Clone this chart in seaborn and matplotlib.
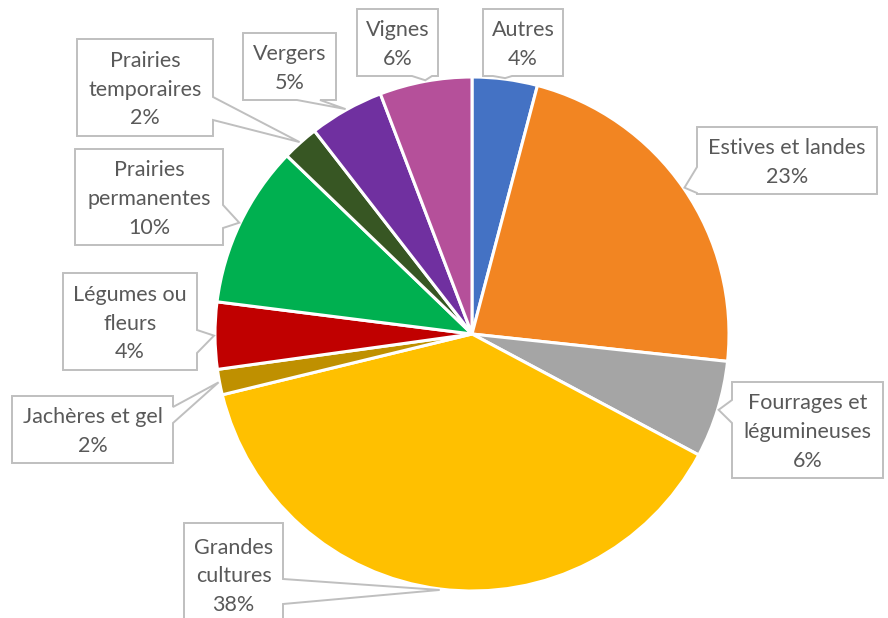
import matplotlib
matplotlib.use("Agg")
import matplotlib.pyplot as plt
from matplotlib.patches import Polygon
import numpy as np
import seaborn as sns

# Surfaces agricoles par type d'occupation (parts en %)
categories = [
    "Autres",
    "Estives et landes",
    "Fourrages et\nlégumineuses",
    "Grandes\ncultures",
    "Jachères et gel",
    "Légumes ou\nfleurs",
    "Prairies\npermanentes",
    "Prairies\ntemporaires",
    "Vergers",
    "Vignes",
]
shares = [4.1, 22.6, 6.1, 38.4, 1.6, 4.2, 10.2, 2.3, 4.7, 5.8]
colors = ["#4472C4", "#F28522", "#A5A5A5", "#FFC000", "#BF9000",
          "#C00000", "#00B050", "#375623", "#7030A0", "#B5509A"]

# Callout boxes in pixel space (left, top, right, bottom), the side the
# pointer leaves from and the span of its base along that side.
callouts = [
    ((483, 9, 563, 76), "bottom", (493, 512)),
    ((697, 127, 877, 194), "left", (167, 193)),
    ((732, 382, 883, 478), "left", (400, 423)),
    ((184, 523, 283, 626), "right", (579, 604)),
    ((12, 396, 173, 463), "right", (407, 423)),
    ((63, 273, 197, 370), "right", (330, 353)),
    ((75, 149, 223, 245), "right", (205, 228)),
    ((77, 39, 213, 136), "right", (97, 120)),
    ((243, 33, 336, 100), "bottom", (297, 320)),
    ((357, 9, 438, 76), "bottom", (412, 432)),
]

W, H = 888, 618
CX, CY, R = 472, 334, 257

sns.set_theme(style="white")
plt.rcParams["font.family"] = ["Lato", "DejaVu Sans"]

fig = plt.figure(figsize=(W / 100, H / 100), dpi=100)
ax = fig.add_axes([0, 0, 1, 1])


def up(y):
    return H - y


wedges, _ = ax.pie(
    shares,
    colors=colors,
    startangle=90,
    counterclock=False,
    center=(CX, up(CY)),
    radius=R,
    wedgeprops=dict(edgecolor="white", linewidth=2.2),
    frame=True,
)
ax.set_xlim(0, W)
ax.set_ylim(0, H)
ax.axis("off")

total = sum(shares)
for wedge, label, value, (box, side, base) in zip(wedges, categories, shares, callouts):
    theta = np.deg2rad((wedge.theta1 + wedge.theta2) / 2)
    tip = (CX + (R + 1) * np.cos(theta), up(CY) + (R + 1) * np.sin(theta))
    x0, y0, x1, y1 = box
    a, b = base
    # walk round the rectangle, inserting the pointer on its side
    if side == "bottom":
        pts = [(x0, up(y0)), (x1, up(y0)), (x1, up(y1)),
               (b, up(y1)), tip, (a, up(y1)), (x0, up(y1))]
    elif side == "right":
        pts = [(x0, up(y0)), (x1, up(y0)), (x1, up(a)), tip,
               (x1, up(b)), (x1, up(y1)), (x0, up(y1))]
    else:  # left
        pts = [(x0, up(y0)), (x1, up(y0)), (x1, up(y1)), (x0, up(y1)),
               (x0, up(b)), tip, (x0, up(a))]
    ax.add_patch(Polygon(pts, closed=True, facecolor="white",
                         edgecolor="#BFBFBF", linewidth=1.4, zorder=3))
    pct = f"{value / total * 100:.0f}%"
    ax.text((x0 + x1) / 2, up((y0 + y1) / 2 + 2), f"{label}\n{pct}",
            ha="center", va="center", fontsize=15.5, color="#595959",
            linespacing=1.56, zorder=4)

fig.savefig("out.png", dpi=100, facecolor="white")
